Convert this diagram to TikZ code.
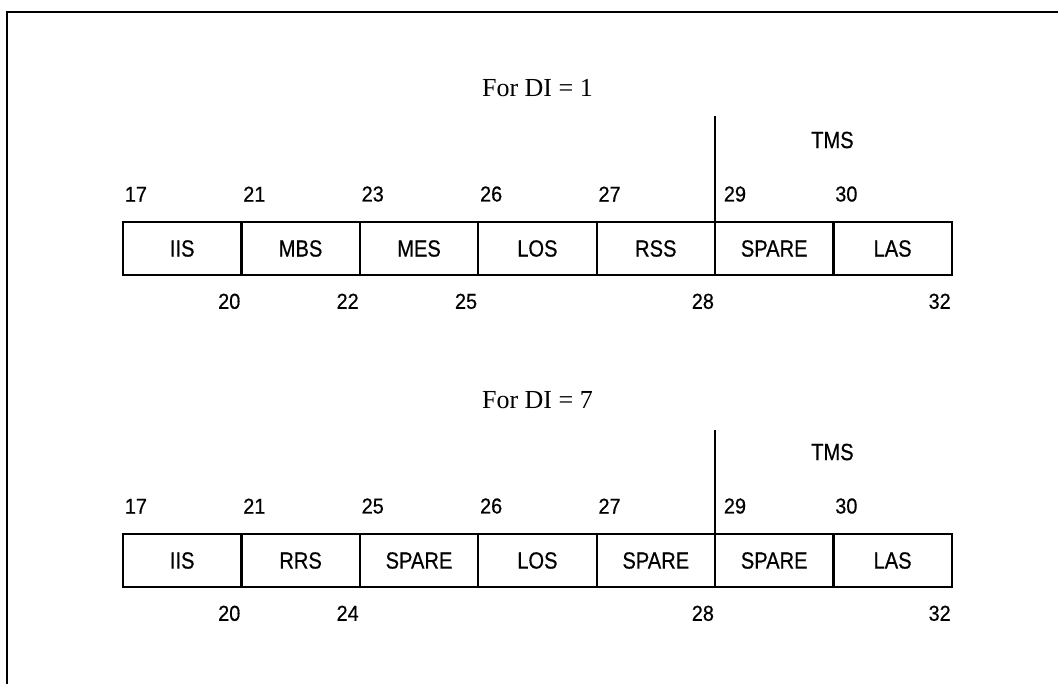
\documentclass[tikz,border=0pt]{standalone}
\usepackage{fontspec}
\setmainfont{Liberation Serif}
\newfontfamily\cellfont[FakeStretch=0.86,FakeBold=0.5]{Liberation Sans}
\newfontfamily\numfont[FakeStretch=0.92,FakeBold=0.5]{Liberation Sans}
\usetikzlibrary{positioning,calc}

\begin{document}
\begin{tikzpicture}[
    line width=1.1pt,
    frame/.style={line width=1pt},
    cell/.style={draw, outer sep=0pt, inner sep=0pt,
                 minimum width=59.2pt, minimum height=26.5pt,
                 font=\cellfont\fontsize{11.7}{13}\selectfont},
    num/.style={inner sep=0pt, font=\numfont\fontsize{10.8}{12}\selectfont},
    numtop/.style={num, anchor=south west, yshift=9.6pt, xshift=0.4pt},
    numbot/.style={num, anchor=north east, yshift=-8.8pt},
    tms/.style={inner sep=0pt, font=\cellfont\fontsize{11.7}{13}\selectfont},
    rowtitle/.style={inner sep=0pt, font=\fontsize{13}{15}\selectfont},
    ]
\useasboundingbox (0,0) rectangle (529pt,-342pt);
\draw[frame] (3.7pt,-342pt) -- (3.7pt,-6pt) -- (529pt,-6pt);

% DI = 1
\node[cell, anchor=north west] (a1) at (61.5pt,-111pt) {IIS};
\node[cell, right=0pt of a1] (a2) {MBS};
\node[cell, right=0pt of a2] (a3) {MES};
\node[cell, right=0pt of a3] (a4) {LOS};
\node[cell, right=0pt of a4] (a5) {RSS};
\node[cell, right=0pt of a5] (a6) {SPARE};
\node[cell, right=0pt of a6] (a7) {LAS};

\node[rowtitle] (ta) at ($(a4.north)+(0,67pt)$) {For DI = 1};
\coordinate (va) at ($(a6.north west)+(0,53pt)$);
\draw (a6.north west) -- (va);
\node[tms] (tmsa) at ($(a6.north east)+(-0.5pt,41pt)$) {TMS};

\node[numtop] (a17) at (a1.north west) {17};
\node[numtop] (a21) at (a2.north west) {21};
\node[numtop] (a23) at (a3.north west) {23};
\node[numtop] (a26) at (a4.north west) {26};
\node[numtop] (a27) at (a5.north west) {27};
\node[numtop, xshift=3.5pt] (a29) at (a6.north west) {29};
\node[numtop] (a30) at (a7.north west) {30};

\node[numbot] (a20) at (a1.south east) {20};
\node[numbot] (a22) at (a2.south east) {22};
\node[numbot] (a25) at (a3.south east) {25};
\node[numbot] (a28) at (a5.south east) {28};
\node[numbot] (a32) at (a7.south east) {32};

% DI = 7
\node[cell, anchor=north west] (b1) at (61.5pt,-267pt) {IIS};
\node[cell, right=0pt of b1] (b2) {RRS};
\node[cell, right=0pt of b2] (b3) {SPARE};
\node[cell, right=0pt of b3] (b4) {LOS};
\node[cell, right=0pt of b4] (b5) {SPARE};
\node[cell, right=0pt of b5] (b6) {SPARE};
\node[cell, right=0pt of b6] (b7) {LAS};

\node[rowtitle] (tb) at ($(b4.north)+(0,67pt)$) {For DI = 7};
\coordinate (vb) at ($(b6.north west)+(0,52pt)$);
\draw (b6.north west) -- (vb);
\node[tms] (tmsb) at ($(b6.north east)+(-0.5pt,41pt)$) {TMS};

\node[numtop] (b17) at (b1.north west) {17};
\node[numtop] (b21) at (b2.north west) {21};
\node[numtop] (b25) at (b3.north west) {25};
\node[numtop] (b26) at (b4.north west) {26};
\node[numtop] (b27) at (b5.north west) {27};
\node[numtop, xshift=3.5pt] (b29) at (b6.north west) {29};
\node[numtop] (b30) at (b7.north west) {30};

\node[numbot] (b20) at (b1.south east) {20};
\node[numbot] (b24) at (b2.south east) {24};
\node[numbot] (b28) at (b5.south east) {28};
\node[numbot] (b32) at (b7.south east) {32};
\end{tikzpicture}
\end{document}
